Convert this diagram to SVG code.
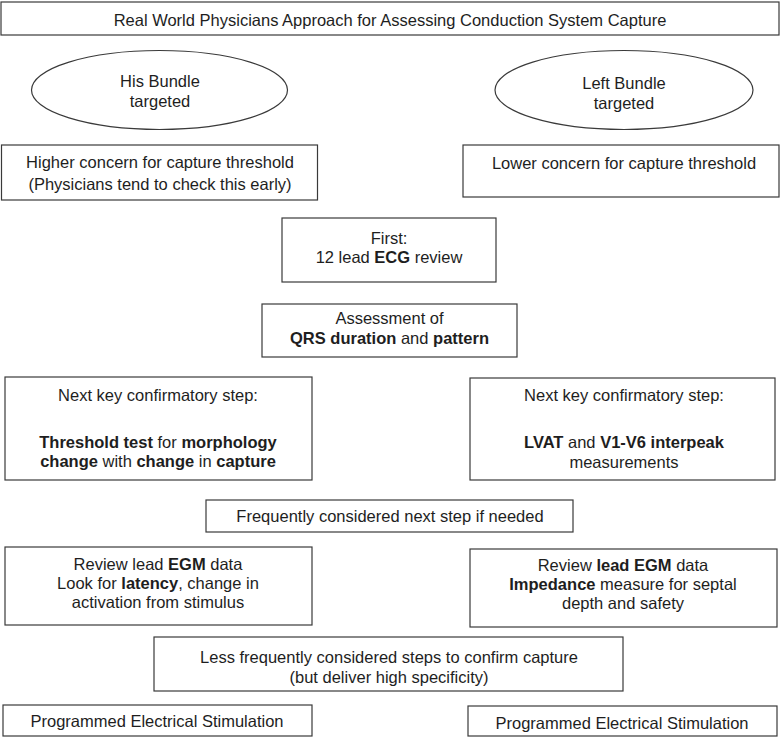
<svg xmlns="http://www.w3.org/2000/svg" width="780" height="737" viewBox="0 0 780 737">
<style>
.box{fill:#fff;stroke:#3a3a3a;stroke-width:1.2}
text{font-family:"Liberation Sans",Arial,sans-serif;font-size:16.5px;fill:#1e1e1e;text-anchor:middle}
.b{font-weight:bold}
</style>
<rect width="780" height="737" fill="#fff"/>
<g id="title"><rect class="box" x="1" y="2" width="778" height="33"/><text x="390" y="26">Real World Physicians Approach for Assessing Conduction System Capture</text></g>
<g id="his"><ellipse class="box" cx="159.5" cy="90" rx="128" ry="39.5"/><text x="160" y="87">His Bundle</text><text x="160" y="107">targeted</text></g>
<g id="left"><ellipse class="box" cx="624" cy="90" rx="129" ry="39.5"/><text x="624" y="89">Left Bundle</text><text x="624" y="109">targeted</text></g>
<g id="higher"><rect class="box" x="1.5" y="145" width="316" height="55"/><text x="160" y="168">Higher concern for capture threshold</text><text x="160" y="190">(Physicians tend to check this early)</text></g>
<g id="lower"><rect class="box" x="463" y="145" width="316" height="52"/><text x="624" y="169">Lower concern for capture threshold</text></g>
<g id="first"><rect class="box" x="282" y="218" width="214" height="64"/><text x="389" y="244">First:</text><text x="389" y="263">12 lead <tspan class="b">ECG</tspan> review</text></g>
<g id="assess"><rect class="box" x="262" y="304" width="255" height="53"/><text x="389.5" y="324">Assessment of</text><text x="389.5" y="344"><tspan class="b">QRS duration</tspan> and <tspan class="b">pattern</tspan></text></g>
<g id="nextL"><rect class="box" x="5" y="377" width="307" height="103"/><text x="158" y="401">Next key confirmatory step:</text><text x="158" y="448"><tspan class="b">Threshold test</tspan> for <tspan class="b">morphology</tspan></text><text x="158" y="467"><tspan class="b">change</tspan> with <tspan class="b">change</tspan> in <tspan class="b">capture</tspan></text></g>
<g id="nextR"><rect class="box" x="470" y="378" width="305" height="102"/><text x="624" y="401">Next key confirmatory step:</text><text x="624" y="448"><tspan class="b">LVAT</tspan> and <tspan class="b">V1-V6 interpeak</tspan></text><text x="624" y="468">measurements</text></g>
<g id="freq"><rect class="box" x="206" y="500" width="367" height="32"/><text x="390" y="522">Frequently considered next step if needed</text></g>
<g id="reviewL"><rect class="box" x="5" y="547" width="307" height="78"/><text x="158" y="570">Review lead <tspan class="b">EGM</tspan> data</text><text x="158" y="589">Look for <tspan class="b">latency</tspan>, change in</text><text x="158" y="608">activation from stimulus</text></g>
<g id="reviewR"><rect class="box" x="470" y="549" width="307" height="78"/><text x="623" y="571">Review <tspan class="b">lead EGM</tspan> data</text><text x="623" y="590"><tspan class="b">Impedance</tspan> measure for septal</text><text x="623" y="609">depth and safety</text></g>
<g id="less"><rect class="box" x="154" y="637" width="469" height="54"/><text x="389" y="663">Less frequently considered steps to confirm capture</text><text x="389" y="683">(but deliver high specificity)</text></g>
<g id="pesL"><rect class="box" x="3" y="705" width="309" height="31"/><text x="157" y="727">Programmed Electrical Stimulation</text></g>
<g id="pesR"><rect class="box" x="468" y="706" width="309" height="30"/><text x="622" y="729">Programmed Electrical Stimulation</text></g>
<g id="connectors"/>
</svg>
